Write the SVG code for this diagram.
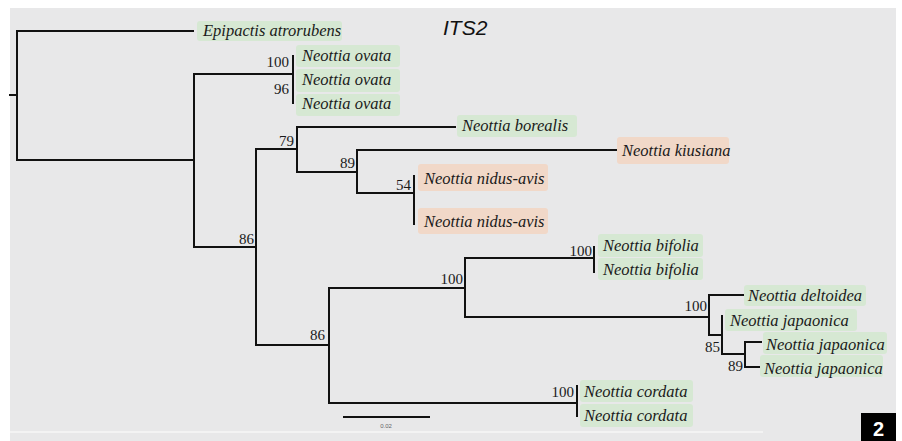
<svg xmlns="http://www.w3.org/2000/svg" width="902" height="441" viewBox="0 0 902 441">
<style>
.edge{fill:none;stroke:#111;stroke-width:2;stroke-linecap:square}
.g{fill:#d6e8d3}
.o{fill:#f1d8c8}
</style>
<rect x="0" y="0" width="902" height="441" fill="#ffffff"/>
<rect x="10" y="8" width="886" height="433" fill="#e8e8e9"/>
<line x1="10" y1="432" x2="763" y2="432" stroke="#f3f3f3" stroke-width="2"/>
<text x="443" y="35" font-family="Liberation Sans, Arial, sans-serif" font-style="italic" font-size="21" fill="#111">ITS2</text>

<g id="connectors">
<path class="edge" d="M10,95 H17 M17,31 V160 M17,31 H193 M17,160 H194 M194,74 V247 M194,74 H293 M293,56 V103 M194,247 H256 M256,149 V345 M256,149 H297 M297,127 V172 M297,127 H455 M297,172 H357 M357,150 V193 M357,150 H616 M357,193 H414 M414,176 V224 M256,345 H329 M329,288 V403 M329,288 H465 M465,258 V317 M465,258 H594 M594,247 V272 M465,317 H709 M709,295 V335 M709,295 H745 M709,335 H722 M722,316 V354 M722,354 H745 M745,342 V367 M745,342 H761 M745,367 H761 M329,403 H577 M577,386 V416"/>
</g>

<g id="support" font-family="Liberation Serif, Times New Roman, serif" font-size="15" fill="#1a1a1a" text-anchor="end">
<text x="289" y="67">100</text>
<text x="289" y="94">96</text>
<text x="294" y="146">79</text>
<text x="355" y="168">89</text>
<text x="411" y="190">54</text>
<text x="254" y="244">86</text>
<text x="325" y="340">86</text>
<text x="463" y="284">100</text>
<text x="592" y="256">100</text>
<text x="707" y="311">100</text>
<text x="720" y="352">85</text>
<text x="743" y="371">89</text>
<text x="574" y="397">100</text>
</g>

<g font-family="Liberation Serif, Times New Roman, serif" font-style="italic" font-size="16.5" fill="#1a1a1a">
<g id="n-epipactis"><rect class="g" x="197" y="21" width="145" height="20" rx="3"/><text x="203" y="36">Epipactis atrorubens</text></g>
<g id="n-ovata1"><rect class="g" x="296" y="45" width="104" height="22" rx="3"/><text x="302" y="61">Neottia ovata</text></g>
<g id="n-ovata2"><rect class="g" x="296" y="69" width="104" height="23" rx="3"/><text x="302" y="85">Neottia ovata</text></g>
<g id="n-ovata3"><rect class="g" x="296" y="94" width="104" height="22" rx="3"/><text x="302" y="109">Neottia ovata</text></g>
<g id="n-borealis"><rect class="g" x="457" y="115" width="120" height="22" rx="3"/><text x="462" y="131">Neottia borealis</text></g>
<g id="n-kiusiana"><rect class="o" x="617" y="137" width="112" height="27" rx="3"/><text x="622" y="156">Neottia kiusiana</text></g>
<g id="n-nidus1"><rect class="o" x="418" y="164" width="130" height="27" rx="3"/><text x="424" y="184">Neottia nidus-avis</text></g>
<g id="n-nidus2"><rect class="o" x="418" y="208" width="130" height="26" rx="3"/><text x="424" y="227">Neottia nidus-avis</text></g>
<g id="n-bifolia1"><rect class="g" x="598" y="234" width="105" height="23" rx="3"/><text x="603" y="251">Neottia bifolia</text></g>
<g id="n-bifolia2"><rect class="g" x="598" y="258" width="105" height="22" rx="3"/><text x="603" y="275">Neottia bifolia</text></g>
<g id="n-deltoidea"><rect class="g" x="744" y="285" width="122" height="21" rx="3"/><text x="748" y="301">Neottia deltoidea</text></g>
<g id="n-japaonica1"><rect class="g" x="725" y="309" width="132" height="22" rx="3"/><text x="730" y="326">Neottia japaonica</text></g>
<g id="n-japaonica2"><rect class="g" x="763" y="332" width="124" height="22" rx="3"/><text x="766" y="350">Neottia japaonica</text></g>
<g id="n-japaonica3"><rect class="g" x="760" y="355" width="123" height="22" rx="3"/><text x="764" y="374">Neottia japaonica</text></g>
<g id="n-cordata1"><rect class="g" x="580" y="380" width="113" height="22" rx="3"/><text x="584" y="397">Neottia cordata</text></g>
<g id="n-cordata2"><rect class="g" x="580" y="404" width="113" height="23" rx="3"/><text x="584" y="421">Neottia cordata</text></g>
</g>

<g id="scalebar">
<line x1="343" y1="417" x2="430" y2="417" stroke="#111" stroke-width="2"/>
<text x="386" y="428" font-family="Liberation Sans, Arial, sans-serif" font-size="6" fill="#666" text-anchor="middle">0.02</text>
</g>

<g id="panel-label">
<rect x="861" y="413" width="35" height="28" fill="#000"/>
<text x="878.5" y="436" font-family="Liberation Sans, Arial, sans-serif" font-weight="bold" font-size="20" fill="#fff" text-anchor="middle">2</text>
</g>
</svg>
